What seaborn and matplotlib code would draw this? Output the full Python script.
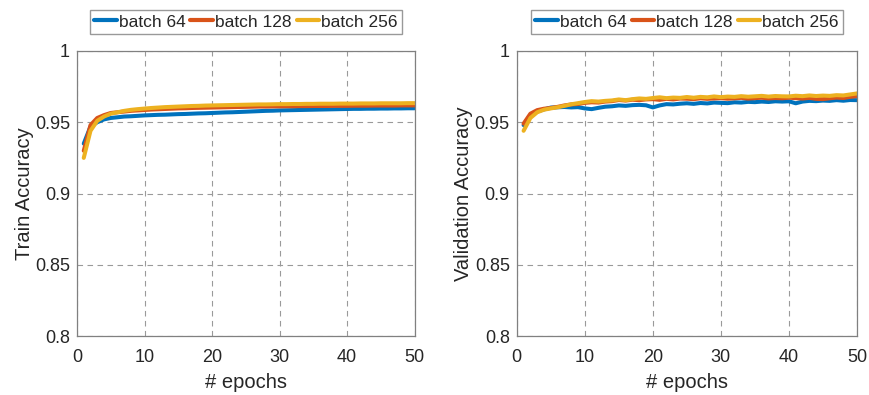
import numpy as np
import pandas as pd
import matplotlib
matplotlib.use("Agg")
import matplotlib.pyplot as plt
import seaborn as sns

epochs = list(range(1, 51))
batches = ["batch 64", "batch 128", "batch 256"]

train_64 = [0.935, 0.947, 0.950, 0.952, 0.953, 0.9535, 0.954, 0.9542, 0.9545, 0.9548,
            0.955, 0.9552, 0.9553, 0.9555, 0.9557, 0.9558, 0.956, 0.9562, 0.9563, 0.9565,
            0.9567, 0.9569, 0.957, 0.9572, 0.9574, 0.9576, 0.9578, 0.958, 0.9581, 0.9583,
            0.9584, 0.9585, 0.9586, 0.9587, 0.9588, 0.9589, 0.959, 0.9591, 0.9592, 0.9593,
            0.9594, 0.9594, 0.9595, 0.9595, 0.9596, 0.9596, 0.9597, 0.9597, 0.9598, 0.9598]
train_128 = [0.930, 0.948, 0.953, 0.955, 0.9565, 0.957, 0.9575, 0.958, 0.9583, 0.9586,
             0.9589, 0.9591, 0.9593, 0.9595, 0.9597, 0.9598, 0.960, 0.9601, 0.9602, 0.9603,
             0.9604, 0.9605, 0.9606, 0.9607, 0.9608, 0.9609, 0.961, 0.961, 0.9611, 0.9611,
             0.9612, 0.9612, 0.9613, 0.9613, 0.9614, 0.9614, 0.9614, 0.9615, 0.9615, 0.9615,
             0.9616, 0.9616, 0.9616, 0.9617, 0.9617, 0.9617, 0.9617, 0.9618, 0.9618, 0.9618]
train_256 = [0.925, 0.944, 0.951, 0.954, 0.956, 0.957, 0.958, 0.9587, 0.9592, 0.9596,
             0.960, 0.9603, 0.9606, 0.9608, 0.961, 0.9612, 0.9614, 0.9615, 0.9617, 0.9618,
             0.9619, 0.962, 0.9621, 0.9622, 0.9623, 0.9624, 0.9625, 0.9625, 0.9626, 0.9627,
             0.9627, 0.9628, 0.9628, 0.9629, 0.9629, 0.963, 0.963, 0.963, 0.9631, 0.9631,
             0.9631, 0.9632, 0.9632, 0.9632, 0.9633, 0.9633, 0.9633, 0.9633, 0.9634, 0.9634]

val_64 = [0.948, 0.955, 0.9575, 0.959, 0.9603, 0.9605, 0.9607, 0.9604, 0.9606, 0.9597,
          0.9592, 0.9601, 0.9609, 0.9612, 0.9618, 0.9615, 0.962, 0.9622, 0.9619, 0.9604,
          0.9618, 0.9627, 0.9625, 0.963, 0.9633, 0.9629, 0.9635, 0.9632, 0.9638, 0.9636,
          0.9634, 0.964, 0.9638, 0.9643, 0.9641, 0.9645, 0.9642, 0.9647, 0.9645, 0.9647,
          0.9633, 0.9645, 0.965, 0.9648, 0.9652, 0.965, 0.9655, 0.9651, 0.9656, 0.9655]
val_128 = [0.949, 0.956, 0.9585, 0.9595, 0.960, 0.9608, 0.9618, 0.9625, 0.9628, 0.9636,
           0.964, 0.9638, 0.9645, 0.9648, 0.9656, 0.9652, 0.9658, 0.9655, 0.966, 0.9662,
           0.9657, 0.9664, 0.966, 0.9666, 0.9665, 0.9662, 0.9668, 0.9664, 0.9667, 0.9669,
           0.9665, 0.9668, 0.9671, 0.9666, 0.9669, 0.9672, 0.9667, 0.967, 0.9668, 0.9672,
           0.9669, 0.9666, 0.9671, 0.9664, 0.9662, 0.9668, 0.9673, 0.967, 0.9678, 0.9683]
val_256 = [0.944, 0.953, 0.957, 0.9588, 0.9597, 0.9605, 0.9615, 0.9626, 0.9634, 0.9642,
           0.9648, 0.9645, 0.965, 0.9653, 0.966, 0.9655, 0.9662, 0.9667, 0.9664, 0.967,
           0.9675, 0.9669, 0.9673, 0.9671, 0.9677, 0.9672, 0.9678, 0.9675, 0.9681, 0.9676,
           0.968, 0.9678, 0.9683, 0.9679, 0.9682, 0.9685, 0.968, 0.9684, 0.9682, 0.9681,
           0.9686, 0.9683, 0.9688, 0.9684, 0.9687, 0.9685, 0.969, 0.9688, 0.9695, 0.9702]

colors = ["#0072BD", "#D95319", "#EDB120"]


def long_form(series):
    frames = []
    for name, vals in zip(batches, series):
        frames.append(pd.DataFrame({"epoch": epochs, "acc": vals, "batch": name}))
    return pd.concat(frames, ignore_index=True)


sns.set_style("white")
plt.rcParams["font.family"] = ["Liberation Sans", "DejaVu Sans"]

fig = plt.figure(figsize=(8.7, 3.95), dpi=100)
ax1 = fig.add_axes([0.0885, 0.149, 0.388, 0.722])
ax2 = fig.add_axes([0.594, 0.149, 0.391, 0.722])

panels = [(ax1, [train_64, train_128, train_256], "Train Accuracy"),
          (ax2, [val_64, val_128, val_256], "Validation Accuracy")]

for ax, series, ylab in panels:
    sns.lineplot(data=long_form(series), x="epoch", y="acc", hue="batch",
                 palette=colors, linewidth=2.9, ax=ax)
    ax.set_xlim(0, 50)
    ax.set_ylim(0.8, 1.0)
    ax.set_xticks([0, 10, 20, 30, 40, 50])
    ax.set_yticks([0.8, 0.85, 0.9, 0.95, 1.0])
    ax.set_yticklabels(["0.8", "0.85", "0.9", "0.95", "1"])
    ax.grid(True, linestyle=(0, (5, 4)), color="#9a9a9a", linewidth=0.8)
    ax.tick_params(axis="both", length=0, labelsize=13, colors="#262626")
    ax.tick_params(axis="x", pad=9)
    ax.tick_params(axis="y", pad=5)
    for s in ax.spines.values():
        s.set_color("#808080")
        s.set_linewidth(0.9)
    ax.set_xlabel("# epochs", fontsize=14.5, color="#262626", labelpad=5)
    ax.set_ylabel(ylab, fontsize=14.5, color="#262626", labelpad=1)
    leg = ax.legend(loc="lower center", bbox_to_anchor=(0.5, 1.06), ncol=3,
                    fontsize=12.5, frameon=True, fancybox=False, handlelength=1.3,
                    handletextpad=0.1, columnspacing=0.3, borderpad=0.25,
                    borderaxespad=0.0, title=None)
    leg.get_frame().set_edgecolor("#808080")
    leg.get_frame().set_linewidth(1.0)
    for h in leg.get_lines():
        h.set_linewidth(3)

fig.savefig("out.png", dpi=100)
